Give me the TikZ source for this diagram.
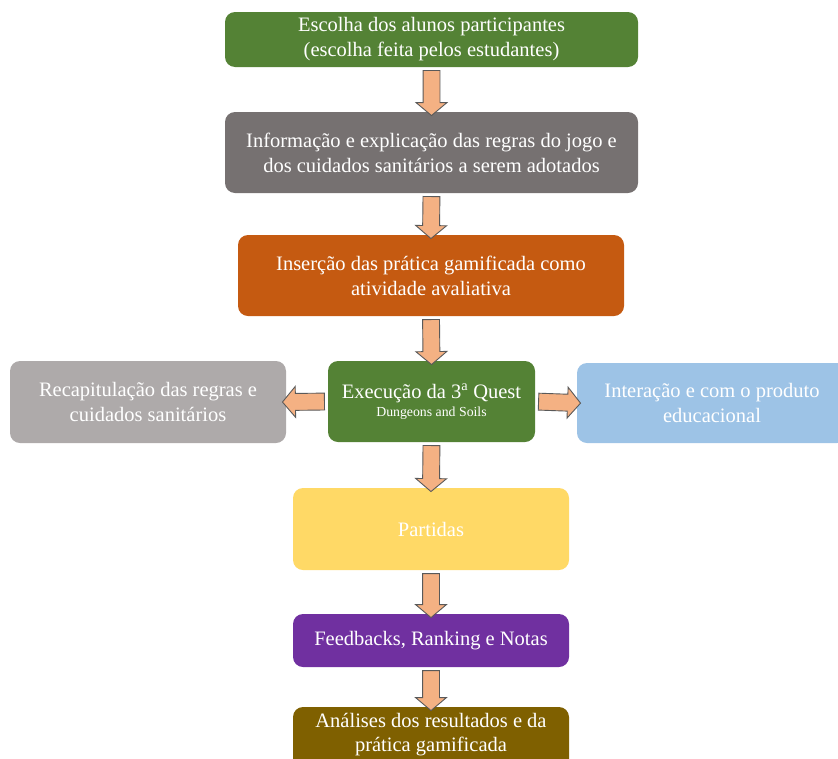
\documentclass[tikz,border=0pt]{standalone}
\usepackage{fontspec}
\setmainfont{Liberation Serif}
\usetikzlibrary{shapes.arrows}
\definecolor{cgreen}{HTML}{548235}
\definecolor{cgray}{HTML}{767171}
\definecolor{corange}{HTML}{C55A11}
\definecolor{clgray}{HTML}{AEAAAA}
\definecolor{cblue}{HTML}{9DC3E6}
\definecolor{cyellow}{HTML}{FFD966}
\definecolor{cpurple}{HTML}{7030A0}
\definecolor{cbrown}{HTML}{7F6000}
\definecolor{cpeach}{HTML}{F4B183}
\definecolor{cedge}{HTML}{595959}
\tikzset{
  box/.style={rounded corners=10pt, inner sep=0pt, align=center, text=white,
    font=\fontsize{20.5}{25}\selectfont},
  fat/.style={single arrow, draw=cedge, fill=cpeach, line width=0.9pt,
    inner xsep=0pt, inner ysep=8pt, minimum width=30pt, single arrow head extend=7pt,
    single arrow tip angle=100, sloped, allow upside down, minimum height=#1},
}
\begin{document}
\begin{tikzpicture}[x=1pt,y=-1pt]
\useasboundingbox (0,0) rectangle (838,758);
\clip (0,0) rectangle (838,758);
\node[box, fill=cgreen, minimum width=413pt, minimum height=55pt] (n1) at (431.5,39.5)
  {Escolha dos alunos participantes\\(escolha feita pelos estudantes)};
\node[box, fill=cgray, minimum width=413pt, minimum height=81pt] (n2) at (431.5,152.5)
  {Informação e explicação das regras do jogo e\\dos cuidados sanitários a serem adotados};
\node[box, fill=corange, minimum width=386pt, minimum height=81pt] (n3) at (431,275.5)
  {Inserção das prática gamificada como\\atividade avaliativa};
\node[box, fill=cgreen, minimum width=207pt, minimum height=81pt] (n4) at (431.5,401.5)
  {Execução da 3\textsuperscript{a} Quest\\[-7pt]{\fontsize{13.8}{16}\selectfont Dungeons and Soils}};
\node[box, fill=clgray, minimum width=276pt, minimum height=82pt] (n5) at (148,402)
  {Recapitulação das regras e\\cuidados sanitários};
\node[box, fill=cblue, minimum width=270pt, minimum height=80pt] (n6) at (712,403)
  {Interação e com o produto\\educacional};
\node[box, fill=cyellow, minimum width=276pt, minimum height=82pt] (n7) at (431,529)
  {Partidas};
\node[box, fill=cpurple, minimum width=276pt, minimum height=53pt] (n8) at (431,640.5)
  {Feedbacks, Ranking e Notas};
\node[box, fill=cbrown, minimum width=276pt, minimum height=80pt] (n9) at (431,747)
  {};
\node[align=center, text=white, font=\fontsize{20.5}{24}\selectfont] (t9) at (431,735)
  {Análises dos resultados e da\\prática gamificada};
% block arrows between the steps
\path (n1.south) -- (n2.north) node[midway, fat=45pt] (a1) {};
\path (n2.south) -- (n3.north) node[midway, fat=42pt] (a2) {};
\path (n3.south) -- (n4.north) node[midway, fat=45pt] (a3) {};
\path (n4.west) -- (n5.east) node[midway, fat=42pt] (a4) {};
\path (n4.east) -- (n6.west) node[midway, fat=42pt] (a5) {};
\path (n4.south) -- (n7.north) node[midway, fat=46pt] (a6) {};
\path (n7.south) -- (n8.north) node[midway, fat=44pt] (a7) {};
\path (n8.south) -- (n9.north) node[midway, fat=40pt] (a8) {};
\end{tikzpicture}
\end{document}
